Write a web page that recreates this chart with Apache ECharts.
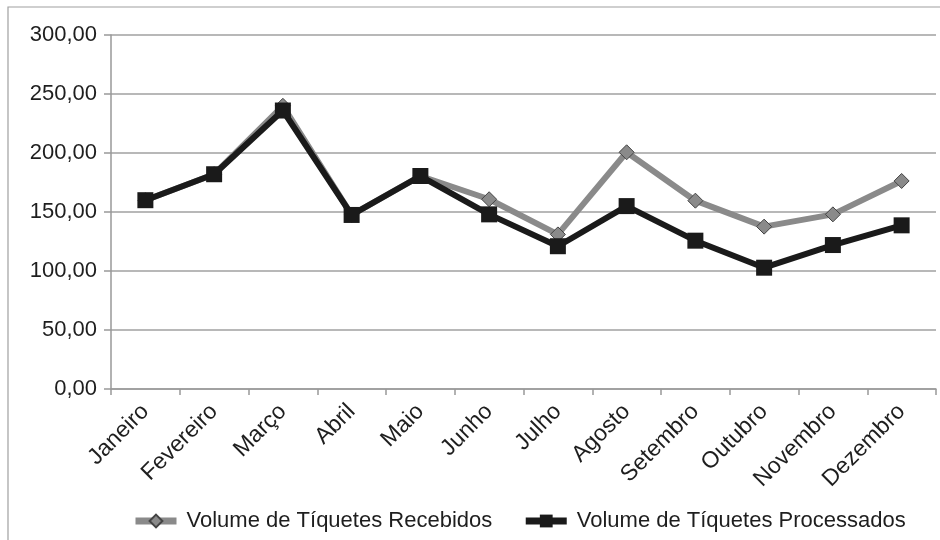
<!DOCTYPE html>
<html>
<head>
<meta charset="utf-8">
<script src="https://cdn.jsdelivr.net/npm/echarts@6/dist/echarts.min.js"></script>
<style>html,body{margin:0;padding:0;background:#fff}#c{width:940px;height:540px}</style>
</head>
<body>
<div id="c"></div>
<script>
const months = ['Janeiro','Fevereiro','Março','Abril','Maio','Junho','Julho','Agosto','Setembro','Outubro','Novembro','Dezembro'];
const recebidos = [160, 182, 240, 147.5, 180.5, 160.8, 131, 200.6, 159.6, 137.6, 148, 176.3];
const processados = [160, 182, 236, 147.5, 180.5, 148, 121, 155, 125.7, 102.8, 122, 138.7];
const yTicks = { min: 0, max: 300, interval: 50 };
const seriesNames = ['Volume de Tíquetes Recebidos', 'Volume de Tíquetes Processados'];

const chart = echarts.init(document.getElementById('c'), null, { renderer: 'canvas' });
const font = '"Liberation Sans", Arial, sans-serif';
chart.setOption({
  animation: false,
  backgroundColor: '#fff',
  textStyle: { fontFamily: font },
  graphic: [{
    type: 'rect', shape: { x: 8, y: 7, width: 1000, height: 1000 },
    style: { fill: 'none', stroke: '#a0a0a0', lineWidth: 1.2 }, z: -1, silent: true
  }],
  grid: { left: 111, right: 4, top: 35, bottom: 151 },
  legend: {
    top: 505, left: 127, itemGap: 30, itemWidth: 41, itemHeight: 16,
    textStyle: { fontSize: 22, color: '#1e1e1e', fontFamily: font, padding: [0, 0, 0, 5] },
    lineStyle: { width: 7 },
    data: seriesNames
  },
  xAxis: {
    type: 'category', data: months, boundaryGap: true,
    axisLine: { lineStyle: { color: '#999', width: 1.5 } },
    axisTick: { show: true, length: 6, lineStyle: { color: '#999', width: 1.5 } },
    axisLabel: { rotate: 45, fontSize: 23, color: '#1e1e1e', margin: 19, interval: 0, fontFamily: font }
  },
  yAxis: {
    type: 'value', min: yTicks.min, max: yTicks.max, interval: yTicks.interval,
    axisLine: { show: true, lineStyle: { color: '#999', width: 1.5 } },
    axisTick: { show: true, length: 7, lineStyle: { color: '#999', width: 1.5 } },
    splitLine: { lineStyle: { color: '#a0a0a0', width: 1.5 } },
    axisLabel: { fontSize: 22, color: '#1e1e1e', margin: 14, fontFamily: font,
      formatter: v => v.toFixed(2).replace('.', ',') }
  },
  series: [{
    name: seriesNames[0], type: 'line', data: recebidos,
    symbol: 'diamond', symbolSize: 15,
    lineStyle: { color: '#8a8a8a', width: 6 },
    itemStyle: { color: '#8a8a8a', borderColor: '#444', borderWidth: 1 },
    z: 2
  }, {
    name: seriesNames[1], type: 'line', data: processados,
    symbol: 'rect', symbolSize: 16,
    lineStyle: { color: '#1a1a1a', width: 6 },
    itemStyle: { color: '#1a1a1a' },
    z: 3
  }]
});
</script>
</body>
</html>
